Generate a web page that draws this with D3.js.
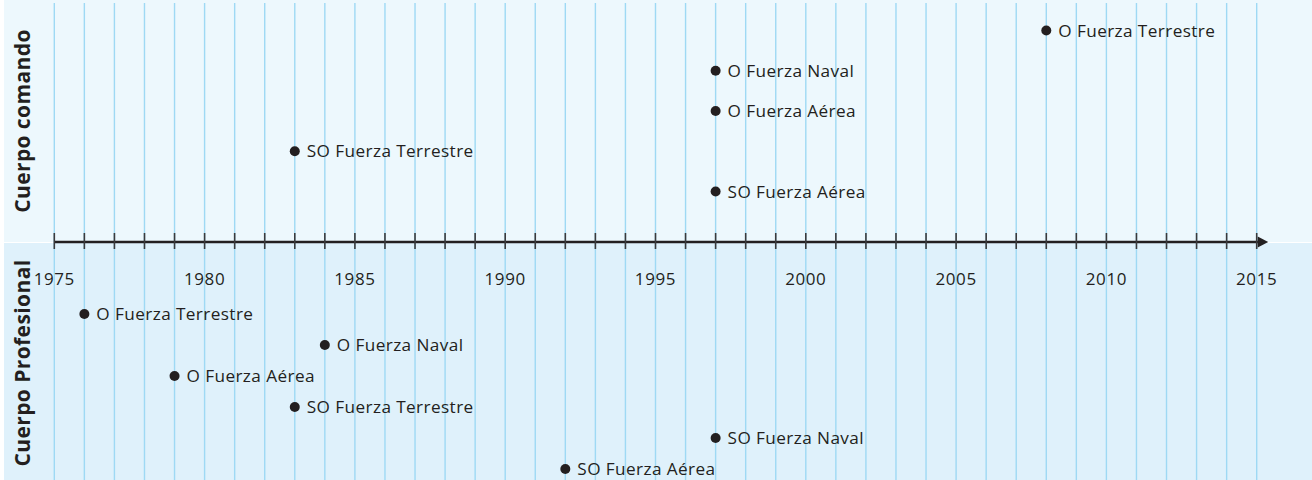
<!DOCTYPE html>
<html lang="es">
<head>
<meta charset="UTF-8">
<title>Cuerpo comando / Cuerpo Profesional</title>
<script src="https://cdn.jsdelivr.net/npm/d3@7"></script>
<style>
  * { margin: 0; padding: 0; }
  body { background: #fff; }
  svg { display: block; font-family: "Open Sans", "Noto Sans", sans-serif; }
</style>
</head>
<body>
<svg></svg>
<script>
// tick labels on the time axis
const tickLabels = [1975, 1980, 1985, 1990, 1995, 2000, 2005, 2010, 2015];

// upper panel: Cuerpo comando
const comandoNames = ['O Fuerza Terrestre', 'O Fuerza Naval', 'O Fuerza Aérea', 'SO Fuerza Terrestre', 'SO Fuerza Aérea'];
const comandoYears = [2008, 1997, 1997, 1983, 1997];

// lower panel: Cuerpo Profesional
const profNames = ['O Fuerza Terrestre', 'O Fuerza Naval', 'O Fuerza Aérea', 'SO Fuerza Terrestre', 'SO Fuerza Naval', 'SO Fuerza Aérea'];
const profYears = [1976, 1984, 1979, 1983, 1997, 1992];

const width = 1312, height = 480;
const axisY = 242;
const svg = d3.select('svg').attr('width', width).attr('height', height);

const x = d3.scaleLinear().domain([1975, 2015]).range([54.3, 1256.7]);
const yTop = d3.scalePoint().domain(comandoNames.map((d, i) => i)).range([30.5, 191.5]);
const yBot = d3.scalePoint().domain(profNames.map((d, i) => i)).range([314, 469]);

// panel backgrounds
svg.append('rect').attr('x', 4).attr('y', 0).attr('width', width - 4).attr('height', axisY)
  .attr('fill', '#edf8fd');
svg.append('rect').attr('x', 4).attr('y', axisY + 1).attr('width', width - 4).attr('height', height - axisY - 1)
  .attr('fill', '#dff1fb');

// yearly grid lines
const years = d3.range(1975, 2016);
svg.append('g').selectAll('line')
  .data(years).enter()
  .append('line')
  .attr('x1', d => x(d)).attr('x2', d => x(d))
  .attr('y1', 3).attr('y2', height)
  .attr('stroke', '#9ed9f4').attr('stroke-width', 1.4);

// axis with ticks every year
const axis = svg.append('g').attr('transform', `translate(0,${axisY})`);
axis.append('line')
  .attr('x1', x(1975)).attr('x2', x(2015) + 4)
  .attr('stroke', '#231f20').attr('stroke-width', 2.6);
axis.append('path')
  .attr('d', `M${x(2015) + 1},-5.5L${x(2015) + 11.5},0L${x(2015) + 1},5.5Z`)
  .attr('fill', '#231f20');
axis.selectAll('.tk')
  .data(years).enter()
  .append('line').attr('class', 'tk')
  .attr('x1', d => x(d)).attr('x2', d => x(d))
  .attr('y1', -9).attr('y2', 7)
  .attr('stroke', '#3a3a3c').attr('stroke-width', 1.6);
axis.selectAll('.lbl')
  .data(tickLabels).enter()
  .append('text').attr('class', 'lbl')
  .attr('x', d => x(d)).attr('y', 42.5)
  .attr('text-anchor', 'middle')
  .attr('font-size', 17).attr('letter-spacing', 0.6)
  .attr('fill', '#231f20')
  .text(d => d);

// events
const drawEvents = (names, yrs, yScale) => {
  const g = svg.append('g');
  const ev = g.selectAll('g').data(names).enter().append('g')
    .attr('transform', (d, i) => `translate(${x(yrs[i])},${yScale(i)})`);
  ev.append('circle').attr('r', 5).attr('fill', '#231f20');
  ev.append('text').attr('x', 12).attr('dy', '0.35em')
    .attr('font-size', 17.2).attr('letter-spacing', 0.4).attr('fill', '#231f20')
    .text(d => d);
};
drawEvents(comandoNames, comandoYears, yTop);
drawEvents(profNames, profYears, yBot);

// rotated side titles
const sideTitle = (txt, cy) => svg.append('text')
  .attr('transform', `translate(30,${cy}) rotate(-90)`)
  .attr('text-anchor', 'middle')
  .attr('font-size', 21).attr('font-weight', 'bold').attr('letter-spacing', 0.4)
  .attr('fill', '#231f20')
  .text(txt);
sideTitle('Cuerpo comando', 121);
sideTitle('Cuerpo Profesional', 363);
</script>
</body>
</html>
